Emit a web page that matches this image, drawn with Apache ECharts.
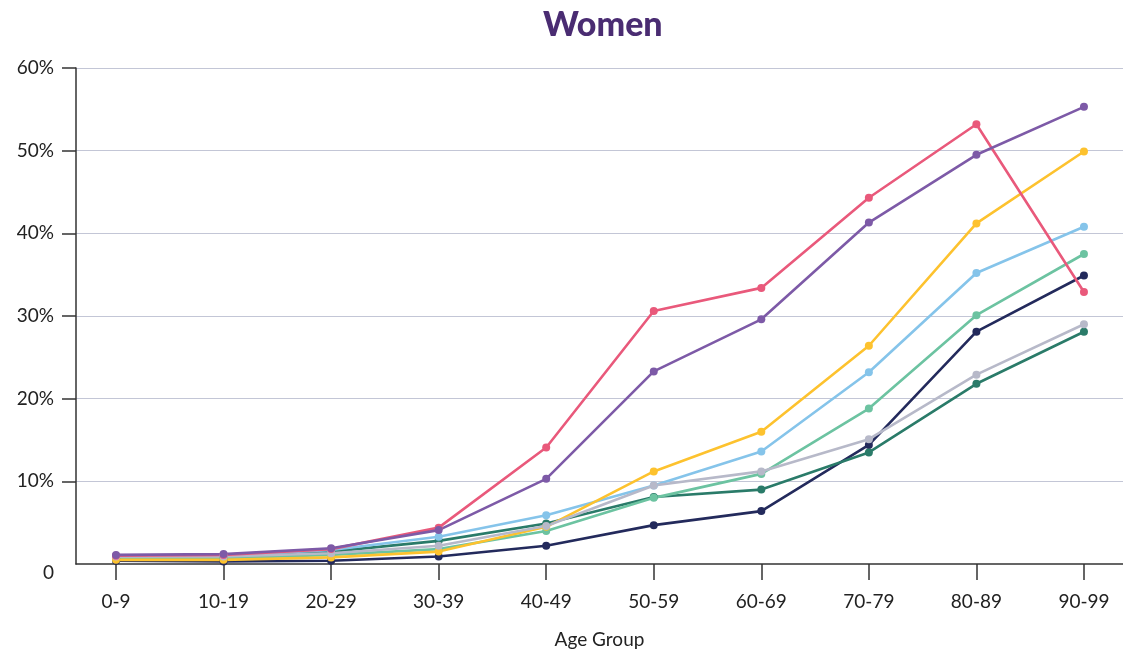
<!DOCTYPE html>
<html><head><meta charset="utf-8">
<script src="https://cdn.jsdelivr.net/npm/echarts@6/dist/echarts.min.js"></script>
<style>html,body{margin:0;padding:0;background:#fff}#c{width:1123px;height:654px}</style>
</head><body><div id="c"></div>
<script>
const categories = ['0-9','10-19','20-29','30-39','40-49','50-59','60-69','70-79','80-89','90-99'];
const yTickLabels = ['0','10%','20%','30%','40%','50%','60%'];
const navy      = [0.4, 0.3, 0.4, 0.9, 2.2, 4.7, 6.4, 14.4, 28.1, 34.9];
const darkGreen = [0.7, 0.8, 1.5, 2.8, 4.9, 8.1, 9.0, 13.5, 21.8, 28.1];
const mint      = [0.7, 0.7, 1.1, 1.8, 4.0, 8.0, 10.9, 18.8, 30.1, 37.5];
const lightBlue = [0.9, 1.0, 1.7, 3.3, 5.9, 9.5, 13.6, 23.2, 35.2, 40.8];
const yellow    = [0.5, 0.5, 0.8, 1.5, 4.5, 11.2, 16.0, 26.4, 41.2, 49.9];
const gray      = [0.9, 0.9, 1.3, 2.2, 4.6, 9.5, 11.2, 15.1, 22.9, 29.0];
const pink      = [1.0, 1.1, 1.8, 4.4, 14.1, 30.6, 33.4, 44.3, 53.2, 32.9];
const purple    = [1.1, 1.2, 1.9, 4.1, 10.3, 23.3, 29.6, 41.3, 49.5, 55.3];

const seriesDefs = [
  ['Navy', navy, '#232a5c'],
  ['Dark green', darkGreen, '#2a7b69'],
  ['Mint', mint, '#6cc3a1'],
  ['Light blue', lightBlue, '#85c4ea'],
  ['Yellow', yellow, '#fdc22e'],
  ['Gray', gray, '#b7b9c9'],
  ['Pink', pink, '#e9597b'],
  ['Purple', purple, '#7d5aa7']
];

const chart = echarts.init(document.getElementById('c'));
const font = 'Lato, "Open Sans", sans-serif';
chart.setOption({
  animation: false,
  title: {
    text: 'Women', left: 538, top: 3,
    textStyle: {fontFamily: font, fontSize: 34, fontWeight: 900, color: '#4a2c72'}
  },
  grid: {left: 76, right: 0, top: 68, bottom: 87},
  xAxis: {
    type: 'value', min: -0.372, max: 9.363,
    name: 'Age Group', nameLocation: 'middle', nameGap: 66,
    nameTextStyle: {fontFamily: font, fontSize: 19, color: '#222'},
    axisLine: {show: true, onZero: false, lineStyle: {color: '#333', width: 1.5}},
    axisTick: {show: true, customValues: categories.map((c, i) => i), length: 16, lineStyle: {color: '#333', width: 1.5}},
    axisLabel: {customValues: categories.map((c, i) => i), formatter: v => categories[Math.round(v)] || '',
      fontFamily: font, fontSize: 19, color: '#222', margin: 28},
    splitLine: {show: false}
  },
  yAxis: {
    type: 'value', min: 0, max: 60, interval: 10,
    axisLine: {show: true, onZero: false, lineStyle: {color: '#333', width: 1.5}},
    axisTick: {show: true, customValues: [10, 20, 30, 40, 50, 60], length: 14, lineStyle: {color: '#333', width: 1.5}},
    axisLabel: {
      formatter: v => v === 0 ? '{z|' + yTickLabels[0] + '}' : yTickLabels[Math.round(v / 10)],
      fontFamily: font, fontSize: 19, color: '#222', margin: 22,
      rich: {z: {fontFamily: font, fontSize: 19, color: '#222', padding: [18, 0, 0, 0]}}
    },
    splitLine: {show: true, lineStyle: {color: '#c3c6d6', width: 1.2}}
  },
  series: seriesDefs.map(([name, data, color]) => ({
    name, type: 'line', data: data.map((v, i) => [i, v]),
    symbol: 'circle', symbolSize: 8, showSymbol: true,
    lineStyle: {color, width: 2.6}, itemStyle: {color}
  }))
});
</script></body></html>
